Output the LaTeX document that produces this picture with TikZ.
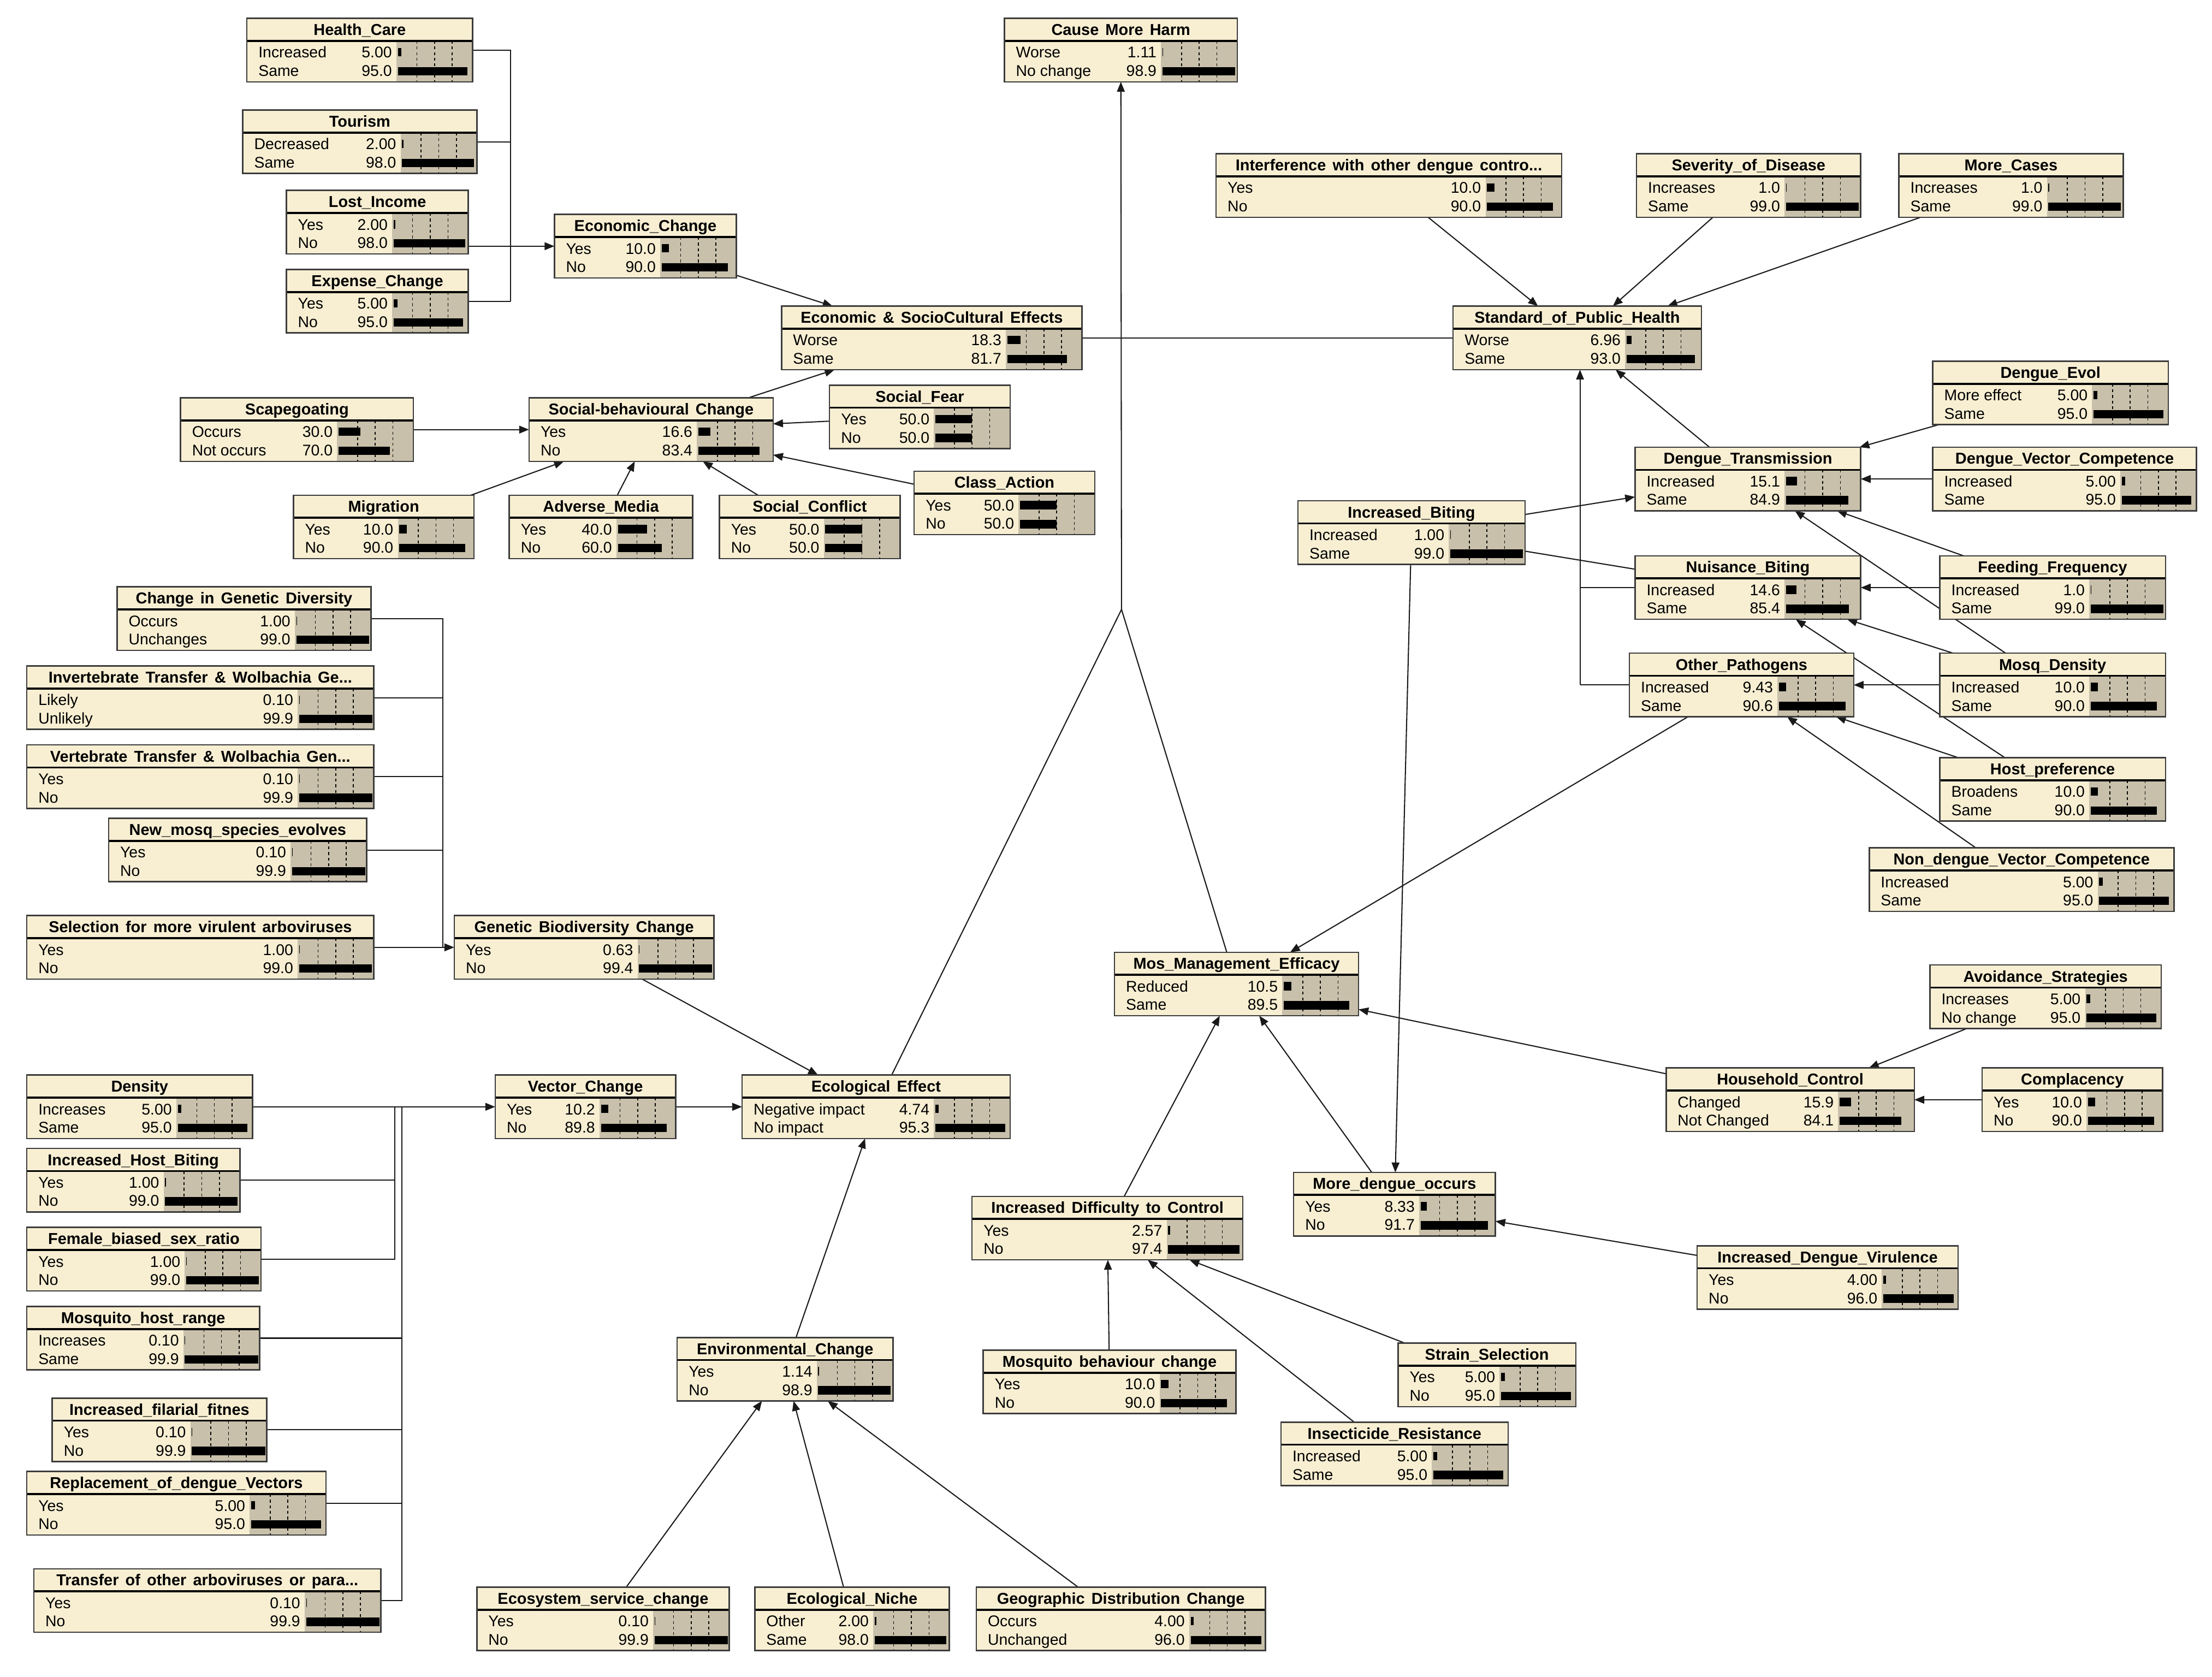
\documentclass[tikz,border=0pt]{standalone}
\usepackage{fontspec}
\setmainfont{Liberation Sans}
\usetikzlibrary{arrows.meta,calc}
\pgfdeclarelayer{paper}
\pgfdeclarelayer{bg}
\pgfsetlayers{paper,bg,main}
\definecolor{cream}{RGB}{248,239,211}
\definecolor{barbg}{RGB}{200,192,170}
\definecolor{bordc}{RGB}{60,60,60}
\definecolor{linkc}{RGB}{25,25,25}
\newcommand{\bnttlfont}{\fontsize{11.2}{13}\selectfont\bfseries\spaceskip=0.42em\relax}
\newcommand{\bnrowfont}{\fontsize{11}{13}\selectfont}
\tikzset{
  bnbox/.style={draw=bordc,fill=cream,line width=1pt,minimum height=45pt,inner sep=0pt,outer sep=0pt},
  bnframe/.style={draw=bordc,line width=1pt},
  sepline/.style={draw=black,line width=1.4pt},
  gridl/.style={draw=black,line width=0.6pt,dash pattern=on 2pt off 2pt},
  ttl/.style={font=\bnttlfont,inner sep=0pt,anchor=base},
  rowt/.style={font=\bnrowfont,inner sep=0pt},
  lnk/.style={draw=linkc,line width=0.8pt},
  arr/.style={lnk,-{Triangle[length=7pt,width=5.5pt]}},
}
\newcommand{\bn}[9]{%
  \node[bnbox,minimum width=#4pt,anchor=north west] (#1) at (#2,#3) {};
  \fill[barbg] ([xshift=-54pt,yshift=-16pt]#1.north east) rectangle (#1.south east);
  \foreach \f in {-39.5,-27,-14.5}{%
    \draw[gridl] ([xshift=\f pt,yshift=-16pt]#1.north east) -- ([xshift=\f pt]#1.south east);}
  \fill[black] ([xshift=-53pt,yshift=-21pt]#1.north east) rectangle ++(#7*0.52pt,-6pt);
  \fill[black] ([xshift=-53pt,yshift=-34.5pt]#1.north east) rectangle ++(#9*0.52pt,-6pt);
  \draw[sepline] ([yshift=-16pt]#1.north west) -- ([yshift=-16pt]#1.north east);
  \draw[bnframe] (#1.north west) rectangle (#1.south east);
  \node[ttl] (#1-t) at ([yshift=-12pt]#1.north) {#5};
  \node[rowt,anchor=base west] (#1-a) at ([xshift=8pt,yshift=-28pt]#1.north west) {#6};
  \node[rowt,anchor=base east] (#1-av) at ([xshift=-57pt,yshift=-28pt]#1.north east) {#7};
  \node[rowt,anchor=base west] (#1-b) at ([xshift=8pt,yshift=-41pt]#1.north west) {#8};
  \node[rowt,anchor=base east] (#1-bv) at ([xshift=-57pt,yshift=-41pt]#1.north east) {#9};
}
\begin{document}
\begin{tikzpicture}[x=1pt,y=-1pt]
\begin{pgfonlayer}{paper}
\fill[white] (0,0) rectangle (1568,1188.3);
\end{pgfonlayer}
\useasboundingbox (0,0) rectangle (1568,1188.3);
% ---------------- nodes ----------------
\bn{hc}{175}{13}{160}{Health\_Care}{Increased}{5.00}{Same}{95.0}
\bn{tour}{172}{78}{166}{Tourism}{Decreased}{2.00}{Same}{98.0}
\bn{li}{203}{135}{129}{Lost\_Income}{Yes}{2.00}{No}{98.0}
\bn{exc}{203}{191}{129}{Expense\_Change}{Yes}{5.00}{No}{95.0}
\bn{ec}{393}{152}{129}{Economic\_Change}{Yes}{10.0}{No}{90.0}
\bn{cmh}{712}{13}{165}{Cause More Harm}{Worse}{1.11}{No change}{98.9}
\bn{ese}{554}{217}{213}{Economic \& SocioCultural Effects}{Worse}{18.3}{Same}{81.7}
\bn{scp}{128}{282}{165}{Scapegoating}{Occurs}{30.0}{Not occurs}{70.0}
\bn{sbc}{375}{282}{173}{Social-behavioural Change}{Yes}{16.6}{No}{83.4}
\bn{sf}{588}{273}{128}{Social\_Fear}{Yes}{50.0}{No}{50.0}
\bn{ca}{648}{334}{128}{Class\_Action}{Yes}{50.0}{No}{50.0}
\bn{mig}{208}{351}{128}{Migration}{Yes}{10.0}{No}{90.0}
\bn{am}{361}{351}{130}{Adverse\_Media}{Yes}{40.0}{No}{60.0}
\bn{sc}{510}{351}{128}{Social\_Conflict}{Yes}{50.0}{No}{50.0}
\bn{intf}{862}{109}{245}{Interference with other dengue contro...}{Yes}{10.0}{No}{90.0}
\bn{sev}{1160}{109}{159}{Severity\_of\_Disease}{Increases}{1.0}{Same}{99.0}
\bn{mc}{1346}{109}{159}{More\_Cases}{Increases}{1.0}{Same}{99.0}
\bn{sph}{1030}{217}{176}{Standard\_of\_Public\_Health}{Worse}{6.96}{Same}{93.0}
\bn{de}{1370}{256}{167}{Dengue\_Evol}{More effect}{5.00}{Same}{95.0}
\bn{dt}{1159}{317}{160}{Dengue\_Transmission}{Increased}{15.1}{Same}{84.9}
\bn{dvc}{1370}{317}{187}{Dengue\_Vector\_Competence}{Increased}{5.00}{Same}{95.0}
\bn{ib}{920}{355}{161}{Increased\_Biting}{Increased}{1.00}{Same}{99.0}
\bn{nb}{1159}{394}{160}{Nuisance\_Biting}{Increased}{14.6}{Same}{85.4}
\bn{ff}{1375}{394}{160}{Feeding\_Frequency}{Increased}{1.0}{Same}{99.0}
\bn{op}{1155}{463}{159}{Other\_Pathogens}{Increased}{9.43}{Same}{90.6}
\bn{md}{1375}{463}{160}{Mosq\_Density}{Increased}{10.0}{Same}{90.0}
\bn{hp}{1375}{537}{160}{Host\_preference}{Broadens}{10.0}{Same}{90.0}
\bn{ndvc}{1325}{601}{216}{Non\_dengue\_Vector\_Competence}{Increased}{5.00}{Same}{95.0}
\bn{cgd}{83}{416}{180}{Change in Genetic Diversity}{Occurs}{1.00}{Unchanges}{99.0}
\bn{itw}{19}{472}{246}{Invertebrate Transfer \& Wolbachia Ge...}{Likely}{0.10}{Unlikely}{99.9}
\bn{vtw}{19}{528}{246}{Vertebrate Transfer \& Wolbachia Gen...}{Yes}{0.10}{No}{99.9}
\bn{nms}{77}{580}{183}{New\_mosq\_species\_evolves}{Yes}{0.10}{No}{99.9}
\bn{sel}{19}{649}{246}{Selection for more virulent arboviruses}{Yes}{1.00}{No}{99.0}
\bn{gbc}{322}{649}{184}{Genetic Biodiversity Change}{Yes}{0.63}{No}{99.4}
\bn{mme}{790}{675}{173}{Mos\_Management\_Efficacy}{Reduced}{10.5}{Same}{89.5}
\bn{avs}{1368}{684}{164}{Avoidance\_Strategies}{Increases}{5.00}{No change}{95.0}
\bn{hhc}{1181}{757}{176}{Household\_Control}{Changed}{15.9}{Not Changed}{84.1}
\bn{comp}{1405}{757}{128}{Complacency}{Yes}{10.0}{No}{90.0}
\bn{dens}{19}{762}{160}{Density}{Increases}{5.00}{Same}{95.0}
\bn{vc}{351}{762}{128}{Vector\_Change}{Yes}{10.2}{No}{89.8}
\bn{ee}{526}{762}{190}{Ecological Effect}{Negative impact}{4.74}{No impact}{95.3}
\bn{ihb}{19}{814}{151}{Increased\_Host\_Biting}{Yes}{1.00}{No}{99.0}
\bn{fbs}{19}{870}{166}{Female\_biased\_sex\_ratio}{Yes}{1.00}{No}{99.0}
\bn{mhr}{19}{926}{165}{Mosquito\_host\_range}{Increases}{0.10}{Same}{99.9}
\bn{iff}{37}{991}{152}{Increased\_filarial\_fitnes}{Yes}{0.10}{No}{99.9}
\bn{rdv}{19}{1043}{212}{Replacement\_of\_dengue\_Vectors}{Yes}{5.00}{No}{95.0}
\bn{toa}{24}{1112}{246}{Transfer of other arboviruses or para...}{Yes}{0.10}{No}{99.9}
\bn{mdo}{917}{831}{143}{More\_dengue\_occurs}{Yes}{8.33}{No}{91.7}
\bn{idc}{689}{848}{192}{Increased Difficulty to Control}{Yes}{2.57}{No}{97.4}
\bn{idv}{1203}{883}{185}{Increased\_Dengue\_Virulence}{Yes}{4.00}{No}{96.0}
\bn{env}{480}{948}{153}{Environmental\_Change}{Yes}{1.14}{No}{98.9}
\bn{mbc}{697}{957}{179}{Mosquito behaviour change}{Yes}{10.0}{No}{90.0}
\bn{ss}{991}{952}{126}{Strain\_Selection}{Yes}{5.00}{No}{95.0}
\bn{ir}{908}{1008}{161}{Insecticide\_Resistance}{Increased}{5.00}{Same}{95.0}
\bn{esc}{338}{1125}{179}{Ecosystem\_service\_change}{Yes}{0.10}{No}{99.9}
\bn{en}{535}{1125}{138}{Ecological\_Niche}{Other}{2.00}{Same}{98.0}
\bn{gdc}{692}{1125}{205}{Geographic Distribution Change}{Occurs}{4.00}{Unchanged}{96.0}
% ---------------- bend points ----------------
\coordinate (ebA) at (362,35.5);
\coordinate (ebB) at (362,213.5);
\coordinate (cj) at (794.5,239.5);
\coordinate (fork) at (795,432);
\coordinate (sbus) at (1120,485.5);
\coordinate (gtop) at (314,438.5);
\coordinate (gbot) at (314,671.5);
\coordinate (vb1) at (280,784.5);
\coordinate (vb1e) at (280,892.5);
\coordinate (vb2) at (285,784.5);
\coordinate (vb2e) at (285,1134.5);
% ---------------- links ----------------
\begin{pgfonlayer}{bg}
% economic cluster
\draw[lnk] (hc) -- (ebA) -- (ebB);
\draw[lnk] (tour) -- (tour -| ebA);
\draw[lnk] (exc) -- (ebB);
\draw[arr] (li.east |- ec.west) -- (ec.west);
\draw[arr] (ec) -- (ese);
\draw[arr] (sbc) -- (ese);
% social cluster
\draw[arr] (scp) -- (sbc);
\draw[arr] (sf) -- (sbc);
\draw[arr] (ca) -- (sbc);
\draw[arr] (mig) -- (sbc);
\draw[arr] (am) -- (sbc);
\draw[arr] (sc) -- (sbc);
% to Cause More Harm
\draw[lnk] (ese) -- (cj);
\draw[lnk] (sph) -- (cj);
\draw[lnk] (mme) -- (fork);
\draw[lnk] (ee) -- (fork);
\draw[arr] (fork) -- (cmh);
% public health
\draw[arr] (intf) -- (sph);
\draw[arr] (sev) -- (sph);
\draw[arr] (mc) -- (sph);
\draw[arr] (dt) -- (sph);
\draw[lnk] (op) -- (sbus);
\draw[lnk] (nb) -- (nb -| sbus);
\draw[arr] (sbus) -- (sbus |- sph.south);
% transmission cluster
\draw[arr] (de) -- (dt);
\draw[arr] (dvc) -- (dt);
\draw[arr] (ib) -- (dt);
\draw[arr] (ff) -- (dt);
\draw[arr] (md) -- (dt);
\draw[lnk] (ib) -- (nb);
\draw[arr] (ff) -- (nb);
\draw[arr] (md) -- (nb);
\draw[arr] (hp) -- (nb);
\draw[arr] (md) -- (op);
\draw[arr] (hp) -- (op);
\draw[arr] (ndvc) -- (op);
% management
\draw[arr] (op) -- (mme);
\draw[arr] (hhc) -- (mme);
\draw[arr] (mdo) -- (mme);
\draw[arr] (idc) -- (mme);
\draw[arr] (ib) -- (mdo);
\draw[arr] (idv) -- (mdo);
\draw[arr] (avs) -- (hhc);
\draw[arr] (comp) -- (hhc);
\draw[arr] (mbc) -- (idc);
\draw[arr] (ss) -- (idc);
\draw[arr] (ir) -- (idc);
% ecological
\draw[arr] (gbc) -- (ee);
\draw[arr] (vc) -- (ee);
\draw[arr] (env) -- (ee);
\draw[arr] (esc) -- (env);
\draw[arr] (en) -- (env);
\draw[arr] (gdc) -- (env);
% genetic bus
\draw[lnk] (cgd) -- (gtop) -- (gbot);
\draw[lnk] (itw) -- (itw -| gtop);
\draw[lnk] (vtw) -- (vtw -| gtop);
\draw[lnk] (nms) -- (nms -| gtop);
\draw[arr] (sel) -- (gbc);
% vector bus
\draw[arr] (dens) -- (vc);
\draw[lnk] (ihb) -- (ihb -| vb1);
\draw[lnk] (fbs) -- (vb1e) -- (vb1);
\draw[lnk] (mhr) -- (mhr -| vb2);
\draw[lnk] (iff) -- (iff -| vb2);
\draw[lnk] (rdv) -- (rdv -| vb2);
\draw[lnk] (toa) -- (vb2e) -- (vb2);
\end{pgfonlayer}
\end{tikzpicture}
\end{document}
